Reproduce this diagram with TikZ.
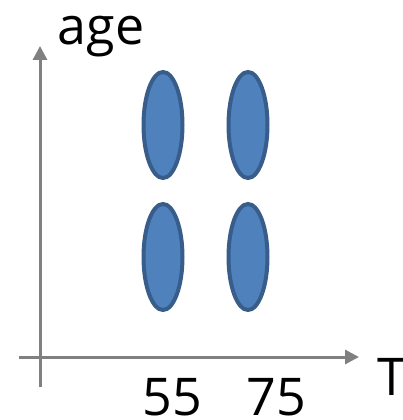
\documentclass[tikz,border=0pt]{standalone}
\usepackage{fontspec}
\setmainfont{Open Sans}
\usetikzlibrary{arrows.meta,shapes.geometric}
\definecolor{blobfill}{HTML}{4F81BD}
\definecolor{blobline}{HTML}{385D8A}
\definecolor{axisgray}{HTML}{808080}
\begin{document}
\begin{tikzpicture}[
    x=1pt, y=-1pt,
    blob/.style={ellipse, draw=blobline, fill=blobfill, line width=4pt,
                 minimum width=39pt, minimum height=106pt, inner sep=0pt},
    axis/.style={draw=axisgray, line width=3pt,
                 -{Triangle[length=14pt,width=14pt]}},
    lbl/.style={anchor=base, inner sep=0pt, font=\fontsize{52}{60}\selectfont}
]
\useasboundingbox (0,0) rectangle (403,420);

% --- axes ---
\coordinate (yfoot) at (40,387);
\coordinate (ytip) at (40,46);
\coordinate (xfoot) at (19,357);
\coordinate (xtip) at (359,357);
\draw[axis] (yfoot) -- (ytip);
\draw[axis] (xfoot) -- (xtip);

\node[lbl] (age) at (101,45) {age};
\node[lbl] (tlab) at (392,395) {T};
\node[lbl] (t55) at (172,415) {55};
\node[lbl] (t75) at (276,415) {75};

% --- groups ---
\node[blob] (a55) at (163,125) {};
\node[blob] (a75) at (248,125) {};
\node[blob] (b55) at (163,257) {};
\node[blob] (b75) at (248,257) {};

\end{tikzpicture}
\end{document}
